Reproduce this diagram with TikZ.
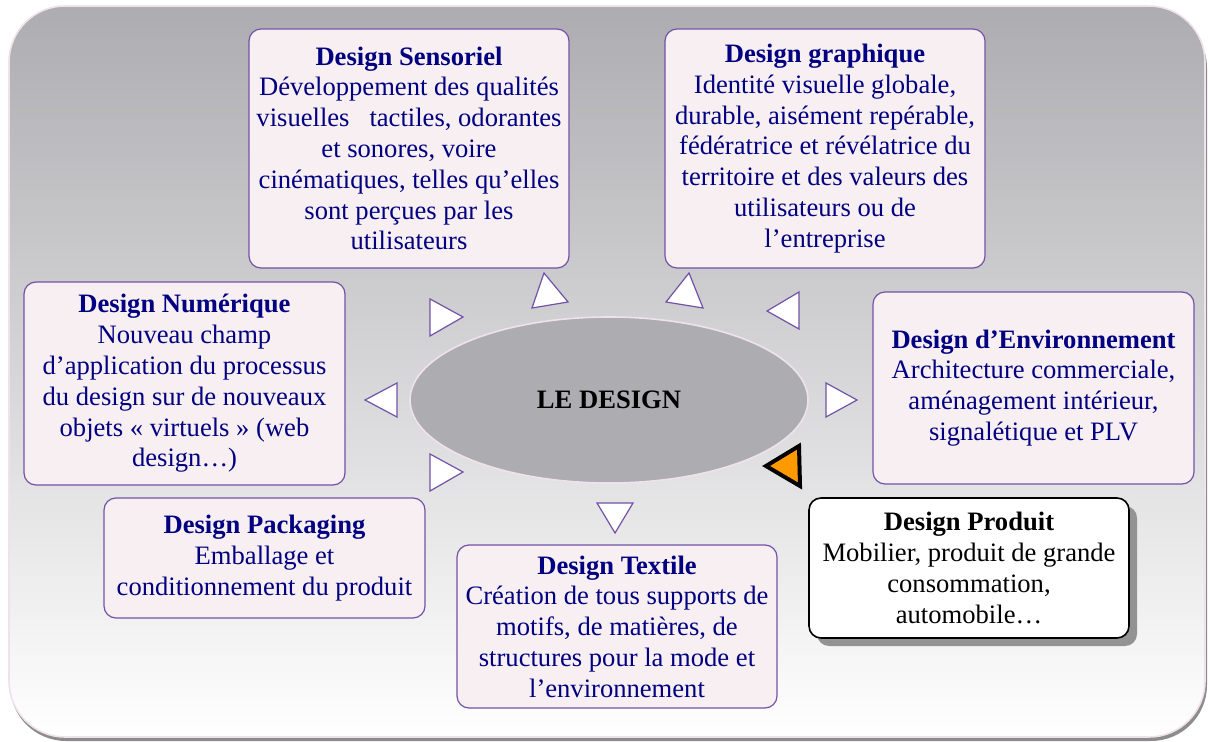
\documentclass[tikz,border=0pt]{standalone}
\usepackage{fontspec}
\setmainfont{Liberation Serif}
\usetikzlibrary{shapes.geometric, shadows}
\usetikzlibrary{positioning}

\definecolor{navy}{HTML}{000080}
\definecolor{boxfill}{HTML}{F7EFF1}
\definecolor{boxline}{HTML}{7252A8}
\definecolor{ellfill}{HTML}{ADACB0}
\definecolor{edgepink}{HTML}{F0E2EA}
\definecolor{tipfill}{HTML}{FF9900}

\tikzset{
  areabox/.style={draw=boxline, line width=0.6pt, fill=boxfill, rounded corners=6pt,
    text=navy, align=center, font=\fontsize{13.3}{15.4}\selectfont, inner sep=0pt},
  tribox/.style={draw=boxline, line width=0.6pt, fill=white, line join=miter},
}

\begin{document}
\begin{tikzpicture}[x=0.5pt, y=-0.5pt]
\useasboundingbox (0,0) rectangle (1208,742);
% background panel
\fill[gray!90, rounded corners=28pt] (10,12) rectangle (1207,741);
\shade[top color=ellfill, bottom color=white, draw=edgepink, line width=0.8pt, rounded corners=28pt]
  (9,6) rectangle (1205,737);

% centre
\node (core) [ellipse, draw=edgepink, line width=0.8pt, fill=ellfill, minimum width=199pt, minimum height=83pt,
  font=\fontsize{13.3}{15.4}\selectfont\bfseries] at (609,400) {LE DESIGN};

% the domains
\node (sens) [areabox, minimum width=160pt, minimum height=119.5pt] at (409,148.5)
  {\textbf{Design Sensoriel}\\Développement des qualités\\visuelles\ \ \ tactiles, odorantes\\et sonores, voire\\cinématiques, telles qu’elles\\sont perçues par les\\utilisateurs};
\node (graph) [areabox, minimum width=160pt, minimum height=119.5pt] at (825,148.5)
  {\textbf{Design graphique}\\Identité visuelle globale,\\durable, aisément repérable,\\fédératrice et révélatrice du\\territoire et des valeurs des\\utilisateurs ou de\\l’entreprise};
\node (num) [areabox, minimum width=160.5pt, minimum height=101.5pt] at (184.5,383.5)
  {\textbf{Design Numérique}\\Nouveau champ\\d’application du processus\\du design sur de nouveaux\\objets « virtuels » (web\\design…)};
\node (env) [areabox, minimum width=160.5pt, minimum height=96pt] at (1033.5,388)
  {\textbf{Design d’Environnement}\\Architecture commerciale,\\aménagement intérieur,\\signalétique et PLV};
\node (pack) [areabox, minimum width=160.5pt, minimum height=60pt] at (264.5,558)
  {\textbf{Design Packaging}\\Emballage et\\conditionnement du produit};
\node (text) [areabox, minimum width=160pt, minimum height=81.5pt] at (617,626.5)
  {\textbf{Design Textile}\\Création de tous supports de\\motifs, de matières, de\\structures pour la mode et\\l’environnement};
\node (prod) [areabox, draw=black, fill=white, text=black, line width=0.8pt,
  drop shadow={shadow xshift=4pt, shadow yshift=-4pt, fill=gray!85, opacity=1},
  minimum width=160pt, minimum height=70pt] at (969,568)
  {\textbf{Design Produit}\\Mobilier, produit de grande\\consommation,\\automobile…};

% pointers round the centre
\draw[tribox] (430,299) -- (463,317) -- (430,336) -- cycle;
\draw[tribox] (544,273) -- (568,302) -- (532,308) -- cycle;
\draw[tribox] (689,273) -- (703,308) -- (666,302) -- cycle;
\draw[tribox] (799,292) -- (767,311) -- (799,329) -- cycle;
\draw[tribox] (397,383) -- (365,400) -- (397,417) -- cycle;
\draw[tribox] (826,383) -- (857,400) -- (826,417) -- cycle;
\draw[tribox] (430,454) -- (463,472) -- (430,491) -- cycle;
\draw[tribox] (597,503) -- (633,503) -- (615,533) -- cycle;
\draw[line width=2pt, fill=tipfill, line join=miter] (799,446) -- (766,466) -- (800,486) -- cycle;
\end{tikzpicture}
\end{document}
